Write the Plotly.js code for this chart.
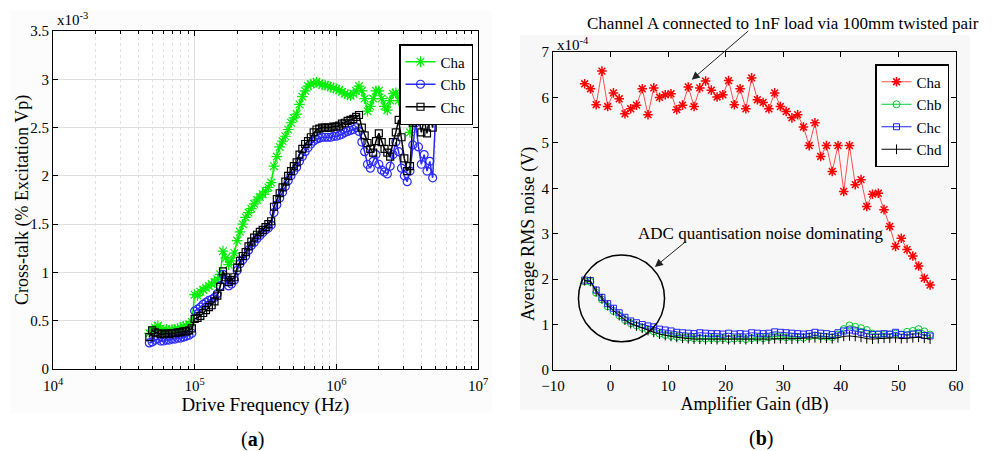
<!DOCTYPE html>
<html>
<head>
<meta charset="utf-8">
<script src="https://cdn.plot.ly/plotly-3.0.1.min.js"></script>
<style>html,body{margin:0;padding:0;background:#fff;}#chart{width:1003px;height:451px;}</style>
</head>
<body>
<div id="chart"></div>
<script>
// ---- Panel (a): cross-talk vs drive frequency (values x1e-3) ----
const freqHz = [47863,50119,52481,54954,57544,60256,63096,66069,69183,72444,75858,79433,83176,87096,91201,95499,
100000,104713,109648,114815,120226,125893,131826,138038,144544,151356,158489,165959,173780,181970,190546,199526,
208930,218776,229087,239883,251189,263027,275423,288403,301995,316228,331131,346737,363078,380189,398107,416869,
436516,457088,478630,501187,524807,549541,575440,602560,630957,660693,691831,724436,758578,794328,831764,870964,
912011,954993,1000000,1047129,1096478,1148154,1202264,1258925,1318257,1380384,1445440,1513561,1584893,1659587,
1737801,1819701,1905461,1995262,2089296,2187762,2290868,2398833,2511886,2630268,2754229,2884032,3019952,3162278,
3311311,3467369,3630781,3801894,3981072,4168694,4365158,4570882,4786301,5011872];

const crossCha = [0.37,0.40,0.43,0.45,0.42,0.40,0.41,0.40,0.41,0.41,0.42,0.43,0.44,0.45,0.46,0.49,
0.77,0.76,0.80,0.82,0.84,0.86,0.88,0.90,0.93,0.98,1.22,1.15,1.08,1.12,1.20,1.33,
1.42,1.50,1.57,1.62,1.66,1.71,1.75,1.78,1.81,1.84,1.88,1.93,2.10,2.20,2.30,2.36,
2.41,2.48,2.55,2.60,2.64,2.74,2.82,2.88,2.93,2.95,2.96,2.97,2.96,2.94,2.94,2.93,
2.92,2.91,2.90,2.89,2.87,2.85,2.84,2.83,2.85,2.88,2.93,2.88,2.80,2.67,
2.72,2.80,2.88,2.88,2.80,2.72,2.68,2.78,2.85,2.86,2.78,2.80,2.93,2.80,
2.45,2.70,2.92,2.78,2.60,2.85,2.72,2.66,2.85,2.60];

const crossChb = [0.27,0.28,0.30,0.31,0.29,0.29,0.30,0.30,0.31,0.31,0.32,0.32,0.33,0.34,0.35,0.37,
0.60,0.62,0.64,0.67,0.69,0.71,0.72,0.74,0.78,0.86,0.98,0.92,0.86,0.88,0.92,1.02,
1.09,1.13,1.17,1.23,1.28,1.31,1.35,1.38,1.41,1.44,1.46,1.49,1.62,1.70,1.77,1.83,
1.89,1.95,2.00,2.05,2.09,2.15,2.20,2.25,2.29,2.33,2.36,2.38,2.39,2.40,2.40,2.40,
2.40,2.41,2.41,2.42,2.43,2.45,2.46,2.47,2.48,2.50,2.46,2.35,2.25,2.12,
2.08,2.15,2.22,2.12,2.06,2.04,2.02,2.10,2.22,2.35,2.25,2.08,2.00,1.94,
2.05,2.32,2.55,2.30,2.12,2.22,2.05,2.15,1.98,2.60];

const crossChc = [0.33,0.40,0.38,0.37,0.36,0.36,0.37,0.36,0.37,0.37,0.38,0.38,0.39,0.39,0.40,0.42,
0.52,0.53,0.55,0.58,0.61,0.64,0.66,0.70,0.76,0.85,1.01,0.95,0.90,0.92,0.95,1.05,
1.12,1.17,1.21,1.27,1.32,1.36,1.39,1.42,1.44,1.47,1.50,1.53,1.68,1.76,1.82,1.88,
1.94,2.00,2.05,2.10,2.14,2.22,2.28,2.33,2.36,2.40,2.45,2.48,2.49,2.50,2.50,2.50,
2.50,2.51,2.51,2.52,2.54,2.55,2.57,2.58,2.59,2.61,2.63,2.50,2.42,2.34,
2.28,2.24,2.36,2.44,2.35,2.28,2.24,2.20,2.35,2.45,2.58,2.40,2.18,2.05,
2.10,2.55,2.82,2.62,2.45,2.58,2.44,2.62,2.50,2.84];

const freqTickVals = [1e4, 1e5, 1e6, 1e7];
const freqTickText = ['10<sup>4</sup>', '10<sup>5</sup>', '10<sup>6</sup>', '10<sup>7</sup>'];

// ---- Panel (b): average RMS noise vs amplifier gain (values x1e-4) ----
const gainDb = [-4.5,-3.5,-2.5,-1.5,-0.5,0.5,1.5,2.5,3.5,4.5,5.5,6.5,7.5,8.5,9.5,10.5,11.5,12.5,13.5,14.5,
15.5,16.5,17.5,18.5,19.5,20.5,21.5,22.5,23.5,24.5,25.5,26.5,27.5,28.5,29.5,30.5,31.5,32.5,33.5,34.5,
35.5,36.5,37.5,38.5,39.5,40.5,41.5,42.5,43.5,44.5,45.5,46.5,47.5,48.5,49.5,50.5,51.5,52.5,53.5,54.5,55.5];

const noiseCha = [6.30,6.19,5.84,6.58,5.80,6.10,5.97,5.64,5.75,5.83,6.19,5.62,6.21,6.00,6.06,6.08,5.73,5.83,6.23,5.80,
6.21,6.36,6.16,6.01,6.06,6.37,5.84,6.19,5.75,6.43,5.95,5.89,5.75,6.10,5.80,5.69,5.55,5.62,5.35,4.94,
5.44,4.70,4.94,4.37,4.94,3.93,4.94,4.08,4.19,3.60,3.87,3.89,3.53,3.16,2.72,2.90,2.65,2.51,2.29,2.02,1.87];

const noiseChb = [1.95,1.94,1.70,1.55,1.40,1.30,1.20,1.10,1.03,0.98,0.93,0.88,0.85,0.80,0.77,0.75,0.73,0.72,0.71,0.70,
0.70,0.69,0.70,0.69,0.70,0.68,0.69,0.70,0.68,0.70,0.71,0.70,0.72,0.74,0.73,0.72,0.73,0.72,0.71,0.74,
0.76,0.74,0.73,0.72,0.78,0.90,0.98,0.95,0.92,0.88,0.80,0.78,0.77,0.78,0.80,0.78,0.84,0.86,0.90,0.85,0.78];

const noiseChc = [1.98,1.97,1.76,1.60,1.46,1.36,1.26,1.16,1.08,1.04,1.00,0.97,0.95,0.90,0.88,0.86,0.83,0.82,0.81,0.80,
0.82,0.81,0.80,0.80,0.79,0.81,0.79,0.80,0.79,0.82,0.81,0.80,0.81,0.84,0.83,0.82,0.81,0.80,0.79,0.80,
0.83,0.81,0.80,0.78,0.82,0.86,0.88,0.86,0.83,0.80,0.78,0.79,0.80,0.79,0.83,0.78,0.77,0.79,0.80,0.76,0.75];

const noiseChd = [1.97,1.95,1.73,1.57,1.42,1.31,1.20,1.10,1.02,0.97,0.92,0.87,0.83,0.79,0.76,0.74,0.72,0.70,0.69,0.68,
0.68,0.67,0.68,0.67,0.68,0.67,0.67,0.68,0.67,0.68,0.68,0.67,0.68,0.69,0.69,0.68,0.68,0.69,0.70,0.71,
0.71,0.70,0.70,0.69,0.71,0.74,0.75,0.74,0.72,0.69,0.68,0.69,0.70,0.70,0.71,0.69,0.70,0.71,0.72,0.70,0.68];

const FONT = 'Liberation Serif, Times New Roman, serif';

const traces = [
  {x: freqHz, y: crossCha, name: 'Cha', type: 'scatter', mode: 'lines+markers', xaxis: 'x', yaxis: 'y', legend: 'legend',
   line: {color: '#00ee00', width: 1.5}, marker: {symbol: 'asterisk-open', size: 9, color: '#00ee00', line: {color: '#00ee00', width: 1.2}}},
  {x: freqHz, y: crossChb, name: 'Chb', type: 'scatter', mode: 'lines+markers', xaxis: 'x', yaxis: 'y', legend: 'legend',
   line: {color: '#2a2aff', width: 1.5}, marker: {symbol: 'circle-open', size: 8, color: '#2a2aff', line: {color: '#2a2aff', width: 1.2}}},
  {x: freqHz, y: crossChc, name: 'Chc', type: 'scatter', mode: 'lines+markers', xaxis: 'x', yaxis: 'y', legend: 'legend',
   line: {color: '#000000', width: 1.5}, marker: {symbol: 'square-open', size: 7, color: '#000000', line: {color: '#000000', width: 1.2}}},

  {x: gainDb, y: noiseCha, name: 'Cha', type: 'scatter', mode: 'lines+markers', xaxis: 'x2', yaxis: 'y2', legend: 'legend2',
   line: {color: '#ff5050', width: 1}, marker: {symbol: 'asterisk-open', size: 8, color: '#ff0000', line: {color: '#ff0000', width: 1.5}}},
  {x: gainDb, y: noiseChb, name: 'Chb', type: 'scatter', mode: 'lines+markers', xaxis: 'x2', yaxis: 'y2', legend: 'legend2',
   line: {color: '#00cc33', width: 1}, marker: {symbol: 'circle-open', size: 7, color: '#00cc33', line: {color: '#00cc33', width: 1}}},
  {x: gainDb, y: noiseChc, name: 'Chc', type: 'scatter', mode: 'lines+markers', xaxis: 'x2', yaxis: 'y2', legend: 'legend2',
   line: {color: '#2020ff', width: 1}, marker: {symbol: 'square-open', size: 6, color: '#2020ff', line: {color: '#2020ff', width: 1}}},
  {x: gainDb, y: noiseChd, name: 'Chd', type: 'scatter', mode: 'lines+markers', xaxis: 'x2', yaxis: 'y2', legend: 'legend2',
   line: {color: '#000000', width: 1}, marker: {symbol: 'line-ns-open', size: 7, color: '#000000', line: {color: '#000000', width: 1}}}
];

const minorLog = [];
for (let d = 4; d < 7; d++) for (let k = 2; k <= 9; k++) minorLog.push(k * Math.pow(10, d));

const axisCommon = {
  showline: true, linecolor: '#000', linewidth: 1, mirror: 'ticks', ticks: 'inside', ticklen: 5,
  tickcolor: '#000', zeroline: false, tickfont: {family: FONT, size: 15, color: '#000'}, automargin: false
};

const W = 1003, H = 451;
const px = v => v / W, py = v => 1 - v / H;

const layout = {
  width: W, height: H, autosize: false,
  margin: {l: 0, r: 0, t: 0, b: 0},
  paper_bgcolor: '#ffffff', plot_bgcolor: 'rgba(0,0,0,0)',
  font: {family: FONT, color: '#000'},
  xaxis: Object.assign({}, axisCommon, {
    type: 'log', range: [4, 7], tickmode: 'array', tickvals: freqTickVals, ticktext: freqTickText,
    domain: [px(53), px(478)], anchor: 'y', ticklabelstandoff: 3,
    showgrid: true, gridcolor: '#dedede', gridwidth: 1,
    minor: {tickmode: 'array', tickvals: minorLog, showgrid: true, gridcolor: '#e2e2e2', griddash: 'dot', ticks: 'inside', ticklen: 3, tickcolor: '#000'},
    title: {text: 'Drive Frequency (Hz)', font: {family: FONT, size: 19}, standoff: 0}
  }),
  yaxis: Object.assign({}, axisCommon, {
    range: [0, 3.5], dtick: 0.5, domain: [py(369), py(31)], anchor: 'x',
    showgrid: true, gridcolor: '#dedede', gridwidth: 1
  }),
  xaxis2: Object.assign({}, axisCommon, {
    range: [-10, 60], dtick: 10, domain: [px(553), px(956)], anchor: 'y2', showgrid: false, ticklabelstandoff: 2,
    title: {text: 'Amplifier Gain (dB)', font: {family: FONT, size: 18}, standoff: 0}
  }),
  yaxis2: Object.assign({}, axisCommon, {
    range: [0, 7], dtick: 1, domain: [py(370), py(52)], anchor: 'x2', showgrid: false
  }),
  legend: {x: px(473), y: py(44), xanchor: 'right', yanchor: 'top', bgcolor: '#fff', bordercolor: '#000', borderwidth: 1.5,
           font: {family: FONT, size: 15, color: '#000'}, tracegroupgap: 0, itemwidth: 30},
  legend2: {x: px(949), y: py(64), xanchor: 'right', yanchor: 'top', bgcolor: '#fff', bordercolor: '#000', borderwidth: 1.5,
           font: {family: FONT, size: 15, color: '#000'}, tracegroupgap: 0, itemwidth: 30},
  shapes: [
    {type: 'rect', xref: 'paper', yref: 'paper', x0: px(10), x1: px(492), y0: py(413), y1: py(10), fillcolor: '#fcfcfc', line: {width: 0}, layer: 'below'},
    {type: 'rect', xref: 'paper', yref: 'paper', x0: px(53), x1: px(478), y0: py(369), y1: py(31), fillcolor: '#ffffff', line: {width: 0}, layer: 'below'},
    {type: 'rect', xref: 'paper', yref: 'paper', x0: px(520), x1: px(970), y0: py(410), y1: py(35), fillcolor: '#f7f7f7', line: {width: 0}, layer: 'below'},
    {type: 'circle', xref: 'x2', yref: 'y2', x0: -5.58, x1: 9.37, y0: 0.62, y1: 2.53, line: {color: '#000', width: 1.5}}
  ],
  annotations: [
    {xref: 'paper', yref: 'paper', x: px(22), y: py(200), xanchor: 'center', yanchor: 'middle', showarrow: false, textangle: -90,
     text: 'Cross-talk (% Excitation Vp)', font: {family: FONT, size: 18}},
    {xref: 'paper', yref: 'paper', x: px(529), y: py(234), xanchor: 'center', yanchor: 'middle', showarrow: false, textangle: -90,
     text: 'Average RMS noise (V)', font: {family: FONT, size: 18}},
    {xref: 'paper', yref: 'paper', x: px(55), y: py(19), xanchor: 'left', yanchor: 'middle', showarrow: false,
     text: 'x10<sup>-3</sup>', font: {family: FONT, size: 15}},
    {xref: 'paper', yref: 'paper', x: px(555), y: py(44), xanchor: 'left', yanchor: 'middle', showarrow: false,
     text: 'x10<sup>-4</sup>', font: {family: FONT, size: 15}},
    {xref: 'paper', yref: 'paper', x: px(252), y: py(439), xanchor: 'center', yanchor: 'middle', showarrow: false,
     text: '(<b>a</b>)', font: {family: FONT, size: 20}},
    {xref: 'paper', yref: 'paper', x: px(761), y: py(438), xanchor: 'center', yanchor: 'middle', showarrow: false,
     text: '(<b>b</b>)', font: {family: FONT, size: 20}},
    {xref: 'paper', yref: 'paper', x: px(783), y: py(23), xanchor: 'center', yanchor: 'middle', showarrow: false,
     text: 'Channel A connected to 1nF load via 100mm twisted pair', font: {family: FONT, size: 17}},
    {xref: 'x2', yref: 'y2', x: 14.1, y: 6.39, ax: 58, ay: -50, text: '', showarrow: true,
     arrowhead: 2, arrowsize: 1.6, arrowwidth: 1, arrowcolor: '#222'},
    {xref: 'paper', yref: 'paper', x: px(761), y: py(233), xanchor: 'center', yanchor: 'middle', showarrow: false,
     text: 'ADC quantisation noise dominating', font: {family: FONT, size: 17}},
    {xref: 'x2', yref: 'y2', x: 7.69, y: 2.27, ax: 33, ay: -27, text: '', showarrow: true,
     arrowhead: 2, arrowsize: 1.6, arrowwidth: 1, arrowcolor: '#222'}
  ]
};

Plotly.newPlot('chart', traces, layout, {staticPlot: true, displayModeBar: false});
</script>
</body>
</html>
